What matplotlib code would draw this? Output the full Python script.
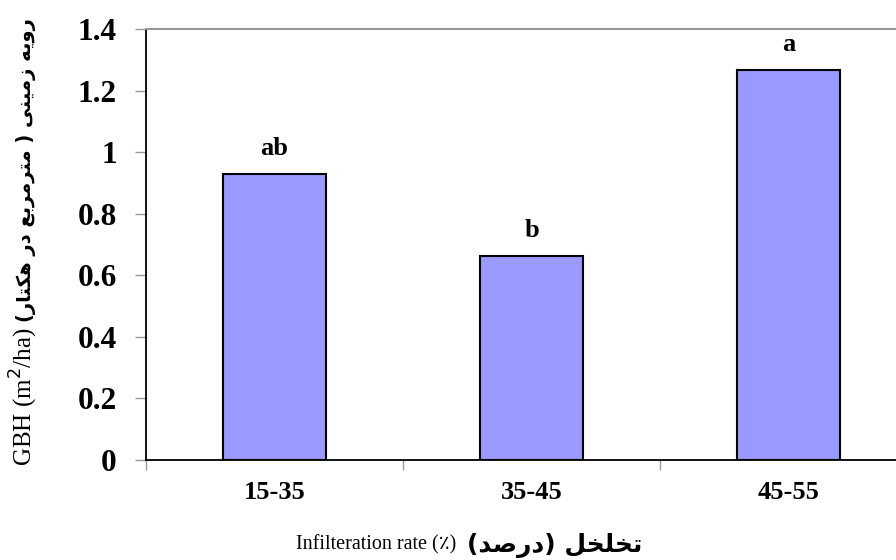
import matplotlib
matplotlib.use("Agg")
import matplotlib.pyplot as plt
import numpy as np

categories = ["15-35", "35-45", "45-55"]
values = [0.93, 0.663, 1.267]
letters = ["ab", "b", "a"]
yticks = [0, 0.2, 0.4, 0.6, 0.8, 1, 1.2, 1.4]
ytick_labels = ["0", "0.2", "0.4", "0.6", "0.8", "1", "1.2", "1.4"]

ylabel_en = "GBH (m$^2$/ha)"
ylabel_fa = "رویه زمینی ( مترمربع در هکتار)"
xlabel_en = "Infilteration rate (٪)"
xlabel_fa = "تخلخل (درصد)"

# minimal Persian shaper (presentation forms + visual order)
FORMS = {
    "ا": ("\uFE8D", "\uFE8E", None, None),
    "ب": ("\uFE8F", "\uFE90", "\uFE91", "\uFE92"),
    "ت": ("\uFE95", "\uFE96", "\uFE97", "\uFE98"),
    "خ": ("\uFEA5", "\uFEA6", "\uFEA7", "\uFEA8"),
    "د": ("\uFEA9", "\uFEAA", None, None),
    "ر": ("\uFEAD", "\uFEAE", None, None),
    "ز": ("\uFEAF", "\uFEB0", None, None),
    "ص": ("\uFEB9", "\uFEBA", "\uFEBB", "\uFEBC"),
    "ع": ("\uFEC9", "\uFECA", "\uFECB", "\uFECC"),
    "ل": ("\uFEDD", "\uFEDE", "\uFEDF", "\uFEE0"),
    "م": ("\uFEE1", "\uFEE2", "\uFEE3", "\uFEE4"),
    "ن": ("\uFEE5", "\uFEE6", "\uFEE7", "\uFEE8"),
    "ه": ("\uFEE9", "\uFEEA", "\uFEEB", "\uFEEC"),
    "و": ("\uFEED", "\uFEEE", None, None),
    "ی": ("\uFBFC", "\uFBFD", "\uFBFE", "\uFBFF"),
    "ک": ("\uFB8E", "\uFB8F", "\uFB90", "\uFB91"),
}


def shape(s):
    out = []
    for i, c in enumerate(s):
        if c not in FORMS:
            out.append(c)
            continue
        dual = FORMS[c][2] is not None
        prev = i > 0 and s[i - 1] in FORMS and FORMS[s[i - 1]][2] is not None
        nxt = dual and i + 1 < len(s) and s[i + 1] in FORMS
        if prev and nxt:
            f = FORMS[c][3]
        elif prev:
            f = FORMS[c][1]
        elif nxt:
            f = FORMS[c][2]
        else:
            f = FORMS[c][0]
        out.append(f)
    mirror = {"(": ")", ")": "("}
    return "".join(mirror.get(ch, ch) for ch in reversed(out))


fig = plt.figure(figsize=(8.96, 5.6), dpi=100)
ax = fig.add_axes([146 / 896, 1 - 460 / 560, (917 - 146) / 896, (460 - 29) / 560])

x = np.arange(len(categories))
bars = ax.bar(x, values, width=0.4, color="#9999FF", edgecolor="black", linewidth=1.5, zorder=3)
for xi, v, lab in zip(x, values, letters):
    ax.annotate(lab, (xi, v), xytext=(0, 10), textcoords="offset points",
                ha="center", va="bottom", fontsize=19, fontweight="bold",
                family="Liberation Serif")

ax.set_xlim(-0.5, 2.5)
ax.set_ylim(0, 1.4)
ax.set_yticks(yticks)
ax.set_yticklabels(ytick_labels, fontsize=22.5, fontweight="bold", family="Liberation Serif")
ax.tick_params(axis="y", length=8, width=1, color="#999999", pad=13)

ax.set_xticks([-0.5, 0.5, 1.5, 2.5])
ax.set_xticklabels(["", "", "", ""])
ax.tick_params(axis="x", which="major", length=7, width=1, color="#999999")
ax.set_xticks(x, minor=True)
ax.set_xticklabels(categories, minor=True, fontsize=19, fontweight="bold", family="Liberation Serif")
ax.tick_params(axis="x", which="minor", length=0, pad=15)

ax.spines["left"].set_color("black")
ax.spines["left"].set_linewidth(1.3)
ax.spines["bottom"].set_color("black")
ax.spines["bottom"].set_linewidth(1.3)
ax.spines["top"].set_color("#999999")
ax.spines["top"].set_linewidth(1.5)
ax.spines["right"].set_visible(False)

# y label (two parts)
fig.text(24 / 896, 1 - 466 / 560, ylabel_en, rotation=90, ha="center", va="bottom",
         fontsize=18, family="Liberation Serif")
fig.text(26 / 896, 1 - 322 / 560, shape(ylabel_fa), rotation=90, ha="center", va="bottom",
         fontsize=14, fontweight="bold", family=["DejaVu Sans"])

# x label (two parts)
fig.text(461 / 896, 1 - 545 / 560, xlabel_en + " ", ha="right", va="center",
         fontsize=14.5, family=["Liberation Serif", "DejaVu Sans"])
fig.text(467 / 896, 1 - 545 / 560, shape(xlabel_fa), ha="left", va="center",
         fontsize=18, fontweight="bold", family=["DejaVu Sans"])

fig.savefig("out.png", dpi=100, facecolor="white")
